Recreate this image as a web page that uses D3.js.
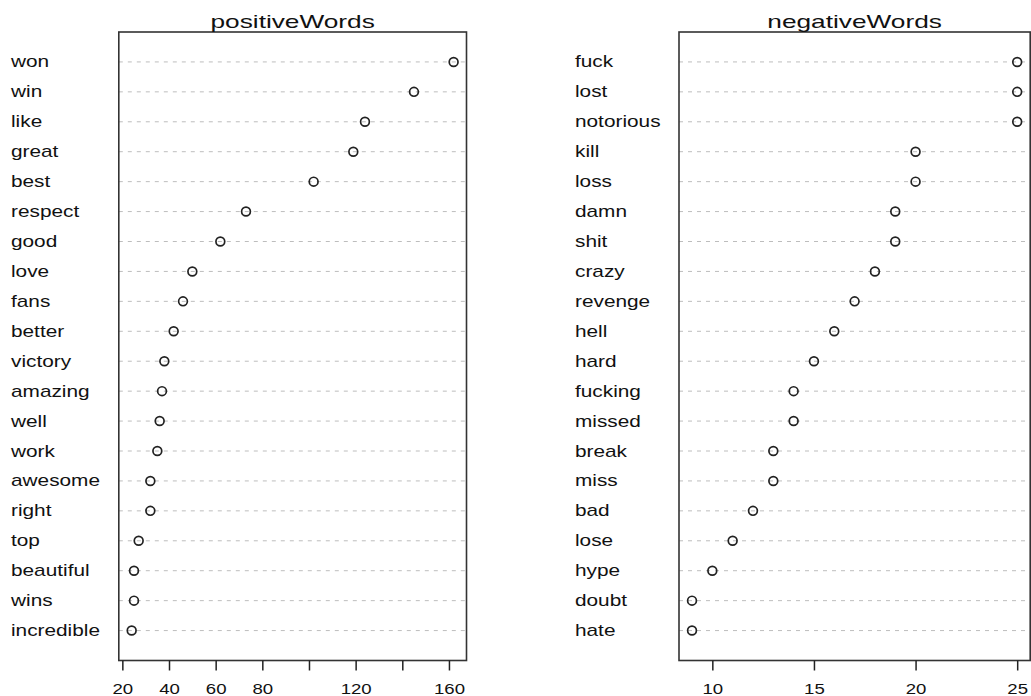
<!DOCTYPE html>
<html><head><meta charset="utf-8">
<script src="https://cdn.jsdelivr.net/npm/d3@7"></script>
<style>body{margin:0;background:#fff}svg{display:block}</style></head>
<body><svg id="c" width="1031" height="696"></svg>
<script>
const positiveWords = ["won","win","like","great","best","respect","good","love","fans","better","victory","amazing","well","work","awesome","right","top","beautiful","wins","incredible"];
const positiveCounts = [162,145,124,119,102,73,62,50,46,42,38,37,36,35,32,32,27,25,25,24];
const negativeWords = ["fuck","lost","notorious","kill","loss","damn","shit","crazy","revenge","hell","hard","fucking","missed","break","miss","bad","lose","hype","doubt","hate"];
const negativeCounts = [25,25,25,20,20,19,19,18,17,16,15,14,14,13,13,12,11,10,9,9];
const positiveTicks = [20,40,60,80,100,120,140,160];
const positiveTickLabels = ["20","40","60","80","","120","","160"];
const negativeTicks = [10,15,20,25];
const negativeTickLabels = ["10","15","20","25"];

const svg = d3.select("#c");
const FONT = "'Liberation Sans', Arial, Helvetica, sans-serif";
const boxTop = 32, boxBottom = 660.5;

function panel(title, words, counts, ticks, tickLabels, left, right, labelX) {
  const n = words.length;
  const lo = d3.min(counts), hi = d3.max(counts), ext = (hi - lo) * 0.04;
  const x = d3.scaleLinear().domain([lo - ext, hi + ext]).range([left, right]);
  const y = d3.scaleLinear().domain([0, n + 1]).range([boxBottom, boxTop]);
  const g = svg.append("g");
  const rows = words.map((w, i) => ({w, v: counts[i], r: n - i}));

  g.selectAll("line.grid").data(rows).join("line")
    .attr("x1", left).attr("x2", right)
    .attr("y1", d => y(d.r)).attr("y2", d => y(d.r))
    .attr("stroke", "#bdbdbd").attr("stroke-width", 1)
    .attr("stroke-dasharray", "4,5");

  g.selectAll("circle").data(rows).join("circle")
    .attr("cx", d => x(d.v)).attr("cy", d => y(d.r)).attr("r", 4.4)
    .attr("fill", "none").attr("stroke", "#222").attr("stroke-width", 1.7);

  g.selectAll("text.lab").data(rows).join("text")
    .attr("transform", d => `translate(${labelX},${y(d.r) + 5.5}) scale(1.3,1)`)
    .attr("font-family", FONT).attr("font-size", 16).attr("fill", "#111")
    .text(d => d.w);

  g.append("rect").attr("x", left).attr("y", boxTop)
    .attr("width", right - left).attr("height", boxBottom - boxTop)
    .attr("fill", "none").attr("stroke", "#333").attr("stroke-width", 1.6);

  const ax = g.append("g").attr("transform", `translate(0,${boxBottom})`)
    .call(d3.axisBottom(x).tickValues(ticks).tickSize(10).tickPadding(12)
      .tickFormat((d, i) => tickLabels[i]));
  ax.select(".domain").remove();
  ax.selectAll(".tick line").attr("stroke", "#222").attr("stroke-width", 1.5);
  ax.selectAll(".tick text").attr("font-family", FONT).attr("font-size", 15.5)
    .attr("fill", "#111").attr("transform", "scale(1.2,1)");

  g.append("text").attr("transform", `translate(${(left + right) / 2},27.5) scale(1.5,1)`)
    .attr("text-anchor", "middle").attr("font-family", FONT).attr("font-size", 17.5)
    .attr("fill", "#111").text(title);
}

panel("positiveWords", positiveWords, positiveCounts, positiveTicks, positiveTickLabels, 118.8, 466.5, 11);
panel("negativeWords", negativeWords, negativeCounts, negativeTicks, negativeTickLabels, 679, 1030.2, 575);
</script></body></html>
